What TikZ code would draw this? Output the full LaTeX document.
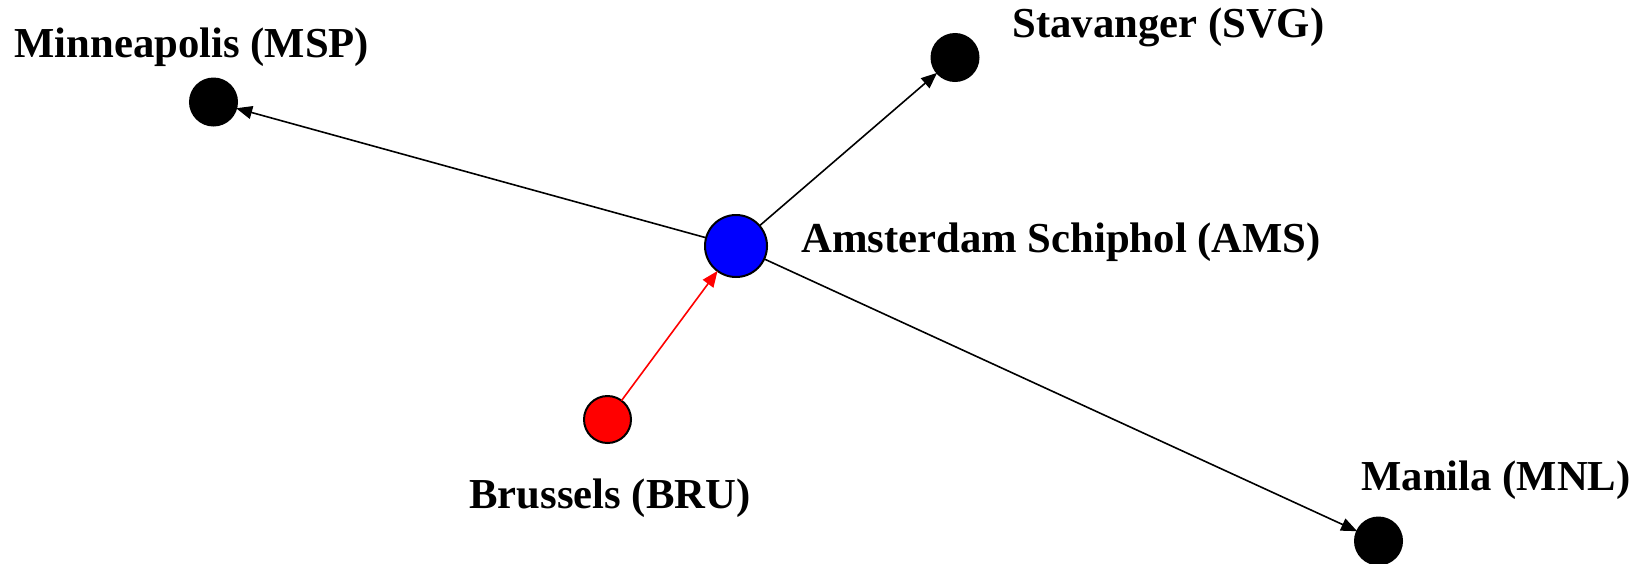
\documentclass[tikz,border=0pt]{standalone}
\usepackage{fontspec}
\setmainfont{Liberation Serif}
\usetikzlibrary{arrows.meta}
\tikzset{
  airport/.style={circle, inner sep=0pt, outer sep=0pt, draw=black, line width=1pt, minimum size=23.5pt},
  hub/.style={airport, minimum size=31pt, fill=blue},
  city/.style={anchor=base west, inner sep=0pt, font=\bfseries\fontsize{21.35}{25}\selectfont},
  route/.style={line width=0.8pt, -{Triangle[length=8pt, width=6.5pt]}},
}
\begin{document}
\begin{tikzpicture}[x=0.5pt, y=-0.5pt]
\useasboundingbox (0,0) rectangle (1647,563);

% airports
\node[hub] (ams) at (736,246) {};
\node[airport, fill=black] (msp) at (213.5,102) {};
\node[airport, fill=black] (svg) at (955,57.5) {};
\node[airport, fill=black] (mnl) at (1378.5,541) {};
\node[airport, fill=red] (bru) at (607.5,419.5) {};

% names
\node[city] (mspl) at (14,57) {Minneapolis (MSP)};
\node[city] (svgl) at (1012,37) {Stavanger (SVG)};
\node[city] (amsl) at (801,252) {Amsterdam Schiphol (AMS)};
\node[city] (brul) at (469,508) {Brussels (BRU)};
\node[city] (mnll) at (1361,490) {Manila (MNL)};

% routes
\draw[route] (ams) -- (msp);
\draw[route] (ams) -- (svg);
\draw[route] (ams) -- (mnl);
\draw[route, red] (bru) -- (ams);
\end{tikzpicture}
\end{document}
